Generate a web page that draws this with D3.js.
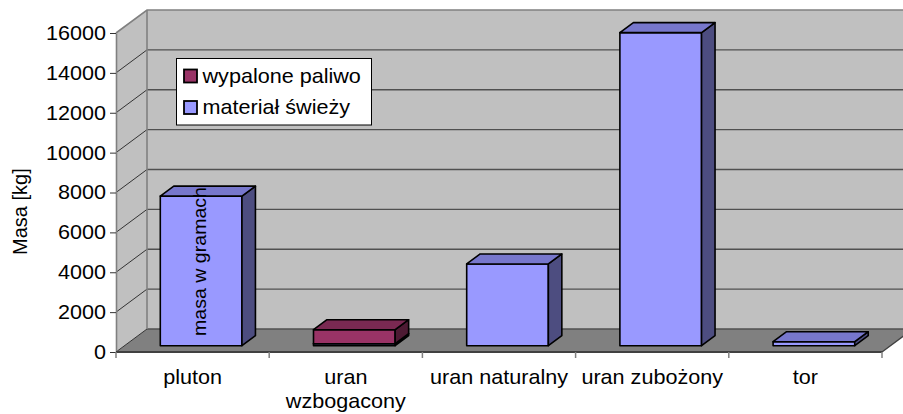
<!DOCTYPE html>
<html>
<head>
<meta charset="utf-8">
<script src="https://cdn.jsdelivr.net/npm/d3@7"></script>
<style>
  html, body { margin: 0; padding: 0; background: #fff; }
  svg { display: block; }
  text { font-family: "Liberation Sans", Arial, sans-serif; fill: #000; }
</style>
</head>
<body>
<div id="chart"></div>
<script>
// ---- data ----
const categories = ["pluton", "uran wzbogacony", "uran naturalny", "uran zubożony", "tor"];
const freshValues = [7500, 100, 4100, 15700, 200];   // materiał świeży
const spentValues = [0, 700, 0, 0, 0];               // wypalone paliwo
const seriesNames = ["materiał świeży", "wypalone paliwo"];
const legendOrder = ["wypalone paliwo", "materiał świeży"];
const yTicks = [0, 2000, 4000, 6000, 8000, 10000, 12000, 14000, 16000];
const yTitle = "Masa [kg]";
const innerNote = "masa w gramach";

// ---- layout ----
const W = 903, H = 414;
const PL = 116, PR = 882, PT = 33, PB = 352;
const DX = 31, DY = -23;          // full depth offset
const f1 = 0.275, f2 = 0.71;      // bar depth span
const barFrac = 0.533;
const SX = 1.08;                  // horizontal text stretch

const colors = {
  "materiał świeży": { front: "#9999ff", top: "#7777cc", side: "#4d4d80" },
  "wypalone paliwo": { front: "#993366", top: "#7a2952", side: "#4d1a33" }
};

const svg = d3.select("#chart").append("svg").attr("width", W).attr("height", H);

const y = d3.scaleLinear().domain([0, 16000]).range([PB, PT]);
const x = d3.scaleBand().domain(categories).range([PL, PR]).padding(0);

// walls & floor
const yTop = y(16000), y0 = y(0);
svg.append("polygon")
  .attr("points", [[PL, y0], [PL, yTop], [PL + DX, yTop + DY], [PL + DX, y0 + DY]].join(" "))
  .attr("fill", "#c0c0c0");
svg.append("polygon")
  .attr("points", [[PL + DX, yTop + DY], [PR + DX, yTop + DY], [PR + DX, y0 + DY], [PL + DX, y0 + DY]].join(" "))
  .attr("fill", "#c0c0c0");
svg.append("polygon")
  .attr("points", [[PL, y0], [PL + DX, y0 + DY], [PR + DX, y0 + DY], [PR, y0]].join(" "))
  .attr("fill", "#808080");

// gridlines
const grid = svg.append("g");
yTicks.forEach(v => {
  if (v === 16000) return;
  grid.append("line").attr("x1", PL).attr("y1", y(v)).attr("x2", PL + DX).attr("y2", y(v) + DY)
    .attr("stroke", "#333").attr("stroke-width", 1);
  grid.append("line").attr("x1", PL + DX).attr("y1", y(v) + DY).attr("x2", PR + DX).attr("y2", y(v) + DY)
    .attr("stroke", "#505050").attr("stroke-width", 1.3);
});
// wall edges
const edge = svg.append("g").attr("fill", "none").attr("stroke", "#808080").attr("stroke-width", 1.6);
edge.append("polyline").attr("points", [[PL, yTop], [PL + DX, yTop + DY], [PR + DX, yTop + DY]].join(" "));
edge.append("line").attr("x1", PL + DX).attr("y1", yTop + DY).attr("x2", PL + DX).attr("y2", y0 + DY);
svg.append("line").attr("x1", PR).attr("y1", y0).attr("x2", PR + DX).attr("y2", y0 + DY)
  .attr("stroke", "#404040").attr("stroke-width", 1.3);

// y axis
const yAxis = svg.append("g").attr("transform", `translate(${PL},0)`)
  .call(d3.axisLeft(y).tickValues(yTicks).tickSize(6).tickSizeOuter(0).tickFormat(d3.format("d")));
yAxis.select(".domain").attr("stroke", "#808080").attr("stroke-width", 1.6);
yAxis.selectAll(".tick line").attr("stroke", "#333");
yAxis.selectAll(".tick text").attr("font-size", 20).attr("font-family", "Liberation Sans, Arial, sans-serif")
  .attr("fill", "#000").attr("x", -9.2).attr("transform", `scale(${SX},1)`);

// x axis
svg.append("line").attr("x1", PL).attr("y1", y0).attr("x2", PR).attr("y2", y0)
  .attr("stroke", "#404040").attr("stroke-width", 2);
const xTicks = categories.map(c => x(c)).concat([PR]);
svg.append("g").selectAll("line").data(xTicks).join("line")
  .attr("x1", d => d).attr("x2", d => d).attr("y1", y0).attr("y2", y0 + 6)
  .attr("stroke", "#808080").attr("stroke-width", 1.5);
const xl = svg.append("g");
categories.forEach(c => {
  const cx = x(c) + x.bandwidth() / 2;
  const g = xl.append("g").attr("transform", `translate(${cx},${y0 + 31.5}) scale(${SX},1)`);
  const t = g.append("text").attr("text-anchor", "middle").attr("font-size", 20).text(c);
  if (t.node().getComputedTextLength() * SX > x.bandwidth() - 4) {
    const words = c.split(" ");
    t.text(null);
    words.forEach((w, i) => t.append("tspan").attr("x", 0).attr("y", i * 24.5).text(w));
  }
});

// bars
const P = (xf, v, f) => [xf + f * DX, y(v) + f * DY];
const stacks = categories.map((c, i) => {
  const segs = [];
  let base = 0;
  [[seriesNames[0], freshValues[i]], [seriesNames[1], spentValues[i]]].forEach(([s, v]) => {
    if (v > 0) { segs.push({ c, s, v0: base, v1: base + v }); base += v; }
  });
  return segs;
}).flat();

const bars = svg.append("g").attr("stroke", "#000").attr("stroke-width", 1.6).attr("stroke-linejoin", "round");
stacks.forEach(d => {
  const bw = x.bandwidth() * barFrac;
  const xa = x(d.c) + (x.bandwidth() - bw) / 2, xb = xa + bw;
  const col = colors[d.s];
  bars.append("polygon").attr("fill", col.front)
    .attr("points", [P(xa, d.v0, f1), P(xb, d.v0, f1), P(xb, d.v1, f1), P(xa, d.v1, f1)].join(" "));
  bars.append("polygon").attr("fill", col.side)
    .attr("points", [P(xb, d.v0, f1), P(xb, d.v0, f2), P(xb, d.v1, f2), P(xb, d.v1, f1)].join(" "));
  bars.append("polygon").attr("fill", col.top)
    .attr("points", [P(xa, d.v1, f1), P(xb, d.v1, f1), P(xb, d.v1, f2), P(xa, d.v1, f2)].join(" "));
});

// inner note
svg.append("text").attr("transform", `translate(206,336) rotate(-90)`)
  .attr("font-size", 17.5).attr("textLength", 149).attr("lengthAdjust", "spacingAndGlyphs").text(innerNote);

// y title
svg.append("text").attr("transform", `translate(26.5,255) rotate(-90)`)
  .attr("font-size", 20).text(yTitle);

// legend
const lg = svg.append("g").attr("transform", "translate(176.5,58.5)");
lg.append("rect").attr("width", 195).attr("height", 66.5).attr("fill", "#fff")
  .attr("stroke", "#000").attr("stroke-width", 1);
legendOrder.forEach((s, i) => {
  const gy = 11 + i * 31.5;
  lg.append("rect").attr("x", 7.5).attr("y", gy).attr("width", 13).attr("height", 13)
    .attr("fill", colors[s].front).attr("stroke", "#000").attr("stroke-width", 1.8);
  lg.append("g").attr("transform", `translate(26,${gy + 13}) scale(${SX},1)`)
    .append("text").attr("font-size", 20).text(s);
});
</script>
</body>
</html>
